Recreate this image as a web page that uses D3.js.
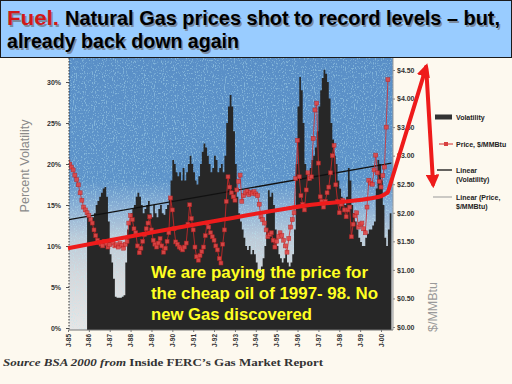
<!DOCTYPE html>
<html lang="en">
<head>
  <meta charset="UTF-8">
  <title>Natural Gas prices</title>
  <script src="https://cdn.jsdelivr.net/npm/d3@7"></script>
  <style>
    html, body {
      margin: 0;
      padding: 0;
      background: #fdf9ef;
      overflow: hidden;
    }
    svg { display: block; }
  </style>
</head>
<body>
  <svg id="chart" width="512" height="384"></svg>
  <script>
    // x axis: January of each year
    const years = d3.range(1985, 2001);
    const yearLabels = years.map(y => 'J-' + String(y).slice(2));
    const pctTicks = [0, 5, 10, 15, 20, 25, 30];
    const priceTicks = [0, 0.5, 1, 1.5, 2, 2.5, 3, 3.5, 4, 4.5];

    // monthly volatility in %, starting Jan 1985 (null = no data)
    const volatility = [
      null, null, null, null, null, null, null, null, null, null,
      null, 14, 13.5, 13, 13.5, 14, 15, 15.5, 16, 16.5,
      17, 17.2, 16, 13, 9, 8, 6, 3.8, 3.7, 3.7,
      3.7, 3.8, 4, 8, 12, 13, 14, 14.5, 15, 16,
      16.5, 16, 15, 14, 14.5, 15, 15.5, 14, 13.5, 15,
      14, 13.5, 14.5, 15, 14, 13.8, 14.5, 15, 16, 18,
      20.5, 20, 19, 18.5, 19, 18, 19.5, 18, 19, 20,
      21, 20, 19, 18, 17.5, 18.5, 20, 21.5, 22.5, 22,
      21, 20, 19, 19.5, 21, 20.5, 19, 19.5, 20, 19,
      21, 25, 27, 28.4, 27, 24, 20, 16, 14, 13,
      12, 11, 10, 9.5, 10, 9, 9.5, 9, 8, 7,
      6.7, 7.5, 8.5, 10, 14, 16.8, 16, 16.5, 15, 12,
      10, 9, 8.5, 8, 8.5, 9, 8, 7.5, 8, 9,
      12, 20, 27, 30.6, 29, 25, 20, 19, 18, 19.5,
      20.5, 21, 22, 24, 27, 29, 30.5, 31.5, 31, 30,
      28, 25, 23, 21, 20, 18, 17, 16, 15.5, 15,
      16, 19.5, 18, 15, 14, 13, 12, 11, 10.5, 10,
      10, 11, 11.5, 12, 12, 12.5, 13, 17, 20.5, 20,
      18, 15, 11, 10, 12, 14, 14
    ];

    // monthly price, $/MMBtu, starting Jan 1985
    const price = [
      2.89, 2.85, 2.80, 2.75, 2.66, 2.58, 2.49, 2.35, 2.22, 2.10,
      2.05, 2.00, 1.95, 1.88, 1.82, 1.70, 1.60, 1.52, 1.48, 1.45,
      1.42, 1.50, 1.46, 1.40, 1.44, 1.52, 1.47, 1.42, 1.44, 1.40,
      1.46, 1.43, 1.38, 1.45, 1.50, 1.82, 1.95, 1.88, 1.72, 1.65,
      1.42, 1.30, 1.38, 1.50, 1.62, 1.72, 1.82, 1.93, 1.70, 1.52,
      1.45, 1.40, 1.47, 1.55, 1.42, 1.31, 1.38, 1.50, 1.65, 2.26,
      2.05, 1.72, 1.49, 1.45, 1.40, 1.38, 1.35, 1.40, 1.47, 1.80,
      2.14, 1.90, 1.70, 1.40, 1.23, 1.17, 1.25, 1.32, 1.40, 1.60,
      1.82, 1.75, 1.65, 1.58, 1.52, 1.42, 1.35, 1.20, 1.12, 1.45,
      1.70, 2.20, 2.63, 2.45, 2.35, 2.28, 2.22, 2.40, 2.55, 2.66,
      2.20, 2.30, 2.35, 2.38, 2.32, 2.36, 2.34, 2.37, 2.33, 2.30,
      2.15, 1.93, 1.88, 1.82, 1.70, 1.58, 1.62, 1.65, 1.52, 1.40,
      1.50, 1.58, 1.65, 1.60, 1.52, 1.42, 1.31, 1.55, 1.75, 1.88,
      2.00, 2.60, 3.27, 2.63, 2.30, 2.15, 2.05, 2.40, 2.70, 2.60,
      2.63, 3.30, 3.80, 3.92, 2.87, 2.28, 2.20, 2.10, 2.20, 2.35,
      2.45, 2.70, 3.00, 3.18, 2.49, 2.20, 2.00, 2.15, 2.22, 2.05,
      1.93, 2.05, 2.10, 1.58, 1.80, 1.95, 2.00, 1.75, 1.80, 1.82,
      1.72, 1.65, 2.10, 2.57, 2.52, 2.50, 2.75, 3.01, 2.70, 2.55,
      2.45, 2.65, 2.80, 3.50, 4.33
    ];

    // trend line of volatility (start, end month) and hand drawn red arrow [month, $]
    const volTrend = [[0, 13.2], [186, 20.1]];
    const arrowTrend = [[0, 1.38], [87, 1.87], [140, 2.14], [179, 2.28], [184, 2.36]];
    const arrowUp = [[184, 2.36], [206, 4.55]];
    const arrowDown = [[206, 4.55], [210, 2.50]];

    const legendLabels = [['Volatility'], ['Price, $/MMBtu'], ['Linear', '(Volatility)'], ['Linear (Price,', '$/MMBtu)']];
    const noteLines = ['We are paying the price for', 'the cheap oil of 1997- 98. No', 'new Gas discovered'];

    const svg = d3.select('#chart');
    const plot = {left: 69, right: 393, top: 58, bottom: 330};
    const start = new Date(1985, 0, 1);
    const month = i => d3.timeMonth.offset(start, i);

    const x = d3.scaleTime()
      .domain([start, new Date(2000, 0, 1)])
      .range([68, 381]);
    const yPct = d3.scaleLinear().domain([0, 30]).range([328, 82]);
    const yPrice = d3.scaleLinear().domain([0, 4.5]).range([327, 70]);

    const defs = svg.append('defs');
    const grad = defs.append('linearGradient')
      .attr('id', 'sky').attr('x1', 0).attr('y1', 0).attr('x2', 0).attr('y2', 1);
    [[0, '#5a8fc7'], [0.45, '#5e94ca'], [0.55, '#8cb0d5'], [0.66, '#bccbd9'], [0.8, '#d5d8dc'], [1, '#e6e6e6']]
      .forEach(s => grad.append('stop').attr('offset', s[0]).attr('stop-color', s[1]));

    const speck = defs.append('filter').attr('id', 'speck')
      .attr('x', 0).attr('y', 0).attr('width', 1).attr('height', 1);
    speck.append('feTurbulence').attr('type', 'fractalNoise')
      .attr('baseFrequency', '0.9 0.6').attr('numOctaves', 1).attr('seed', 4);
    speck.append('feColorMatrix').attr('type', 'matrix')
      .attr('values', '0 0 0 0 0.5  0 0 0 0 0.82  0 0 0 0 0.9  0 0 0 8 -4.4');

    defs.append('clipPath').attr('id', 'clip')
      .append('rect')
      .attr('x', plot.left).attr('y', plot.top)
      .attr('width', plot.right - plot.left).attr('height', plot.bottom - plot.top);

    const arrowHead = defs.append('marker').attr('id', 'head')
      .attr('viewBox', '0 0 10 10').attr('refX', 7).attr('refY', 5)
      .attr('markerWidth', 3.4).attr('markerHeight', 3.4)
      .attr('orient', 'auto');
    arrowHead.append('path').attr('d', 'M0,0L10,5L0,10z').attr('fill', '#ee1b1b');

    // title band
    svg.append('rect')
      .attr('x', 0.5).attr('y', 0.5).attr('width', 511).attr('height', 57)
      .attr('fill', '#99ccff').attr('stroke', '#1a1a1a');

    const title = [
      {text: 'Fuel.', x: 7, y: 25, len: 52, size: 21, fill: '#d11919'},
      {text: 'Natural Gas prices shot to record levels \u2013 but,', x: 65, y: 25, len: 435, size: 20, fill: '#000'},
      {text: 'already back down again', x: 7, y: 48, len: 232, size: 20, fill: '#000'}
    ];
    [['#7a8aa0', 1.5], [null, 0]].forEach(([shadow, off]) => {
      svg.selectAll(null).data(title).enter().append('text')
        .attr('x', d => d.x + off).attr('y', d => d.y + off)
        .attr('textLength', d => d.len).attr('lengthAdjust', 'spacingAndGlyphs')
        .attr('font-family', 'Liberation Sans, Arial, sans-serif')
        .attr('font-weight', 'bold')
        .attr('font-size', d => d.size)
        .attr('fill', d => shadow || d.fill)
        .text(d => d.text);
    });

    // plot background
    const g = svg.append('g').attr('clip-path', 'url(#clip)');
    g.append('rect')
      .attr('x', plot.left).attr('y', plot.top)
      .attr('width', plot.right - plot.left).attr('height', plot.bottom - plot.top)
      .attr('fill', 'url(#sky)');
    g.append('rect')
      .attr('x', plot.left).attr('y', plot.top)
      .attr('width', plot.right - plot.left).attr('height', plot.bottom - plot.top)
      .attr('filter', 'url(#speck)')
      .attr('opacity', 0.4);

    // volatility
    const area = d3.area()
      .defined(d => d != null)
      .x((d, i) => x(month(i)))
      .y0(plot.bottom)
      .y1(d => yPct(d))
      .curve(d3.curveStepAfter);
    g.append('path')
      .datum(volatility)
      .attr('d', area)
      .attr('fill', '#272727');

    // volatility trend
    g.append('path')
      .datum(volTrend)
      .attr('d', d3.line().x(d => x(month(d[0]))).y(d => yPct(d[1])))
      .attr('stroke', '#111').attr('stroke-width', 1.3).attr('fill', 'none');

    // price
    g.append('path')
      .datum(price)
      .attr('d', d3.line().x((d, i) => x(month(i))).y(d => yPrice(d)))
      .attr('stroke', '#d42a2a').attr('stroke-width', 0.8).attr('fill', 'none');
    g.selectAll('rect.pt')
      .data(price)
      .enter().append('rect')
      .attr('class', 'pt')
      .attr('x', (d, i) => x(month(i)) - 2)
      .attr('y', d => yPrice(d) - 2)
      .attr('width', 4).attr('height', 4)
      .attr('fill', '#e04848').attr('stroke', '#b52020').attr('stroke-width', 0.5)
      .attr('opacity', 0.9);

    // axes
    const axisFont = sel => sel.selectAll('text')
      .attr('font-family', 'Liberation Sans, Arial, sans-serif')
      .attr('font-size', 7).attr('font-weight', 'bold').attr('fill', '#333');

    const left = svg.append('g')
      .attr('transform', `translate(${plot.left},0)`)
      .call(d3.axisLeft(yPct).tickValues(pctTicks).tickFormat(d => d + '%').tickSize(3).tickPadding(5))
      .call(axisFont);
    left.select('.domain').remove();
    left.append('line')
      .attr('y1', plot.top).attr('y2', plot.bottom)
      .attr('stroke', '#333').attr('stroke-dasharray', '1.5,1.5');
    left.selectAll('.tick line').attr('stroke', '#555');

    const right = svg.append('g')
      .attr('transform', `translate(${plot.right},0)`)
      .call(d3.axisRight(yPrice).tickValues(priceTicks).tickFormat(d => '$' + d.toFixed(2)).tickSize(2).tickPadding(2))
      .call(axisFont);
    right.select('.domain').attr('d', `M0,${plot.top}V${plot.bottom}`).attr('stroke', '#999');
    right.selectAll('.tick line').attr('stroke', '#888');

    const bottom = svg.append('g')
      .attr('transform', `translate(0,${plot.bottom})`)
      .call(d3.axisBottom(x).tickValues(years.map(y => new Date(y, 0, 1))).tickFormat((d, i) => yearLabels[i]).tickSize(2))
      .call(axisFont);
    bottom.select('.domain').attr('d', `M${plot.left},0H${plot.right}`).attr('stroke', '#777');
    bottom.selectAll('.tick line').attr('stroke', '#777');
    bottom.selectAll('text')
      .attr('transform', 'rotate(-90)')
      .attr('x', -4).attr('y', 0).attr('dy', '0.32em')
      .attr('font-size', 6.5)
      .style('text-anchor', 'end');

    // axis titles
    svg.append('text')
      .attr('transform', 'translate(29,166) rotate(-90)')
      .attr('text-anchor', 'middle')
      .attr('font-family', 'Liberation Sans, Arial, sans-serif')
      .attr('font-size', 13).attr('fill', '#8a8a8a')
      .attr('textLength', 93).attr('lengthAdjust', 'spacingAndGlyphs')
      .text('Percent Volatility');
    svg.append('text')
      .attr('transform', 'translate(437,307) rotate(-90)')
      .attr('text-anchor', 'middle')
      .attr('font-family', 'Liberation Sans, Arial, sans-serif')
      .attr('font-size', 12).attr('fill', '#9a9a9a')
      .attr('textLength', 50).attr('lengthAdjust', 'spacingAndGlyphs')
      .text('$/MMBtu');

    // legend
    const lg = svg.append('g')
      .attr('font-family', 'Liberation Sans, Arial, sans-serif')
      .attr('font-size', 7).attr('font-weight', 'bold').attr('fill', '#222');
    const legendY = [117, 144, 170, 197];
    lg.append('rect').attr('x', 435).attr('y', legendY[0] - 2.5).attr('width', 17).attr('height', 5).attr('fill', '#333');
    lg.append('line').attr('x1', 439).attr('x2', 453).attr('y1', legendY[1]).attr('y2', legendY[1]).attr('stroke', '#d42a2a');
    lg.append('rect').attr('x', 444).attr('y', legendY[1] - 2).attr('width', 4).attr('height', 4).attr('fill', '#d84040');
    lg.append('line').attr('x1', 437).attr('x2', 452).attr('y1', legendY[2]).attr('y2', legendY[2]).attr('stroke', '#111').attr('stroke-width', 1.3);
    lg.append('line').attr('x1', 433).attr('x2', 452).attr('y1', legendY[3]).attr('y2', legendY[3]).attr('stroke', '#999');
    legendLabels.forEach((lines, i) => {
      lines.forEach((t, j) => {
        lg.append('text').attr('x', 456).attr('y', legendY[i] + 2.5 + j * 9.5).text(t);
      });
    });

    // hand drawn red arrow
    const ax = d => x(month(d[0]));
    const ay = d => yPrice(d[1]);
    svg.append('path')
      .datum(arrowTrend)
      .attr('d', d3.line().x(ax).y(ay).curve(d3.curveMonotoneX))
      .attr('stroke', '#ee1b1b').attr('stroke-width', 4).attr('fill', 'none');
    [arrowUp, arrowDown].forEach(seg => {
      svg.append('path')
        .datum(seg)
        .attr('d', d3.line().x(ax).y(ay))
        .attr('stroke', '#ee1b1b').attr('stroke-width', 4).attr('fill', 'none')
        .attr('stroke-linecap', 'round')
        .attr('marker-end', 'url(#head)');
    });

    // note
    svg.append('g')
      .attr('font-family', 'Liberation Sans, Arial, sans-serif')
      .attr('font-weight', 'bold').attr('font-size', 17).attr('fill', '#ffff22')
      .selectAll('text')
      .data(noteLines)
      .enter().append('text')
      .attr('x', 151)
      .attr('y', (d, i) => 278 + i * 21)
      .attr('textLength', (d, i) => [217, 227, 161][i])
      .attr('lengthAdjust', 'spacingAndGlyphs')
      .text(d => d);

    // source
    const src = svg.append('text')
      .attr('x', 3).attr('y', 366)
      .attr('font-family', 'Liberation Serif, Times New Roman, serif')
      .attr('font-size', 10).attr('font-weight', 'bold').attr('fill', '#333')
      .attr('textLength', 320).attr('lengthAdjust', 'spacingAndGlyphs');
    src.append('tspan').attr('font-style', 'italic').text('Source BSA 2000 from ');
    src.append('tspan').text('Inside FERC\u2019s Gas Market Report');
  </script>
</body>
</html>
